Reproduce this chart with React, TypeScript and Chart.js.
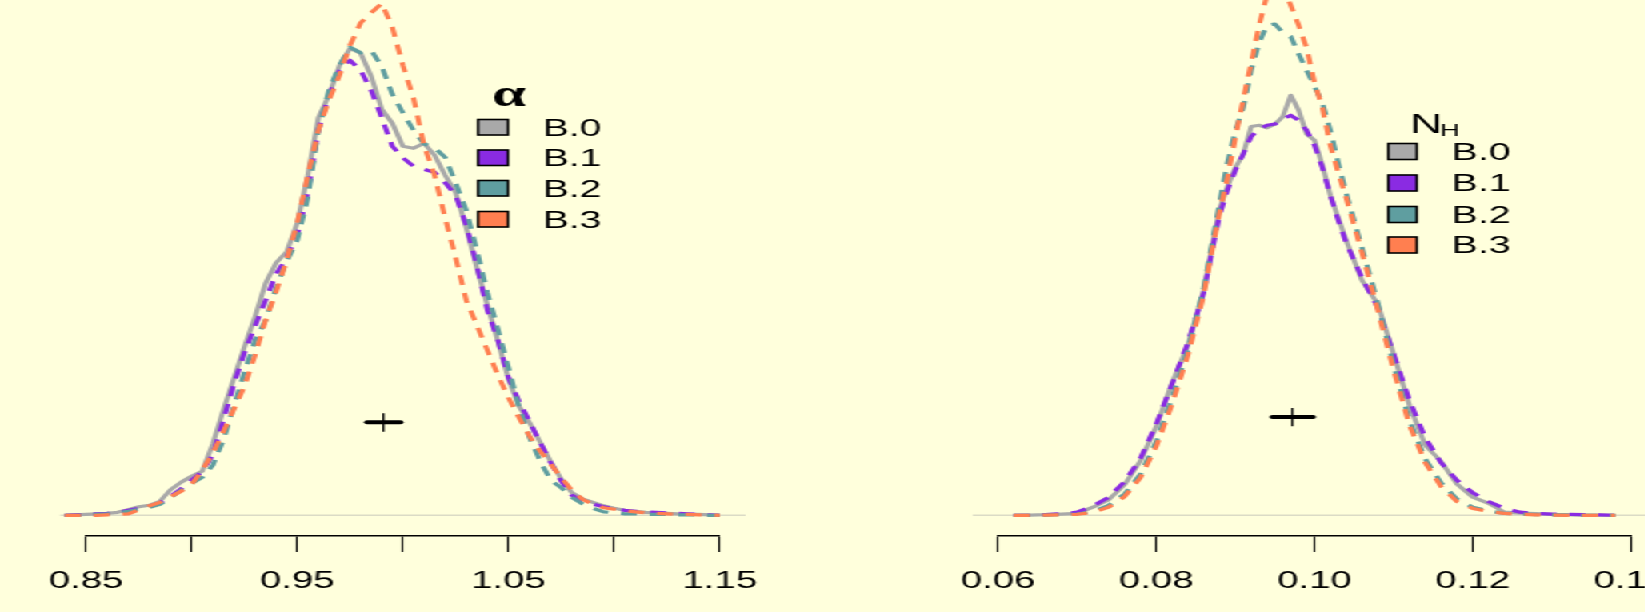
import React, { useEffect, useRef } from 'react';
import { Chart, registerables } from 'chart.js';

Chart.register(...registerables);

// ---------------- data ----------------
const SERIES_NAMES = ['B.0', 'B.1', 'B.2', 'B.3'];
const SERIES_COLORS = ['#A9A9A9', '#8A2BE2', '#5F9EA0', '#FF7F50'];

// alpha panel: density grid
const ALPHA_X = [
  0.840, 0.845, 0.850, 0.855, 0.860, 0.865, 0.870, 0.875, 0.880, 0.885, 0.890, 0.895, 0.900,
  0.905, 0.910, 0.915, 0.920, 0.925, 0.930, 0.935, 0.940, 0.945, 0.950,
  0.955, 0.960, 0.965, 0.970, 0.975, 0.980, 0.985, 0.990, 0.995, 1.000,
  1.005, 1.010, 1.015, 1.020, 1.025, 1.030, 1.035, 1.040, 1.045, 1.050,
  1.055, 1.060, 1.065, 1.070, 1.075, 1.080, 1.085, 1.090, 1.095, 1.100,
  1.105, 1.110, 1.115, 1.120, 1.125, 1.130, 1.135, 1.140, 1.145, 1.150,
];
const ALPHA_B0 = [
  0.00, 0.01, 0.02, 0.03, 0.04, 0.06, 0.11, 0.17, 0.20, 0.28, 0.51, 0.66, 0.78,
  0.88, 1.43, 2.10, 2.74, 3.37, 3.97, 4.64, 5.05, 5.27, 5.85,
  6.80, 7.95, 8.40, 9.00, 9.34, 9.24, 8.78, 8.12, 7.84, 7.38,
  7.34, 7.44, 7.20, 6.80, 6.45, 5.75, 4.95, 4.20, 3.48, 2.72,
  2.18, 1.85, 1.46, 1.07, 0.72, 0.45, 0.33, 0.26, 0.19, 0.14,
  0.10, 0.08, 0.06, 0.05, 0.04, 0.03, 0.02, 0.02, 0.01, 0.00,
];
const ALPHA_B1 = [
  0.00, 0.01, 0.02, 0.03, 0.04, 0.06, 0.10, 0.14, 0.18, 0.25, 0.38, 0.53, 0.70,
  0.88, 1.20, 1.90, 2.62, 3.25, 3.78, 4.30, 4.83, 5.15, 5.60,
  6.45, 7.70, 8.40, 8.90, 9.10, 8.90, 8.50, 7.95, 7.38, 7.15,
  6.98, 6.92, 6.86, 6.65, 6.40, 5.80, 5.00, 4.10, 3.50, 2.75,
  2.28, 1.87, 1.45, 1.05, 0.68, 0.40, 0.28, 0.22, 0.17, 0.13,
  0.10, 0.08, 0.07, 0.06, 0.05, 0.04, 0.03, 0.02, 0.01, 0.00,
];
const ALPHA_B2 = [
  0.00, 0.00, 0.01, 0.02, 0.03, 0.05, 0.08, 0.12, 0.16, 0.22, 0.35, 0.50, 0.64,
  0.76, 1.00, 1.50, 2.18, 2.86, 3.50, 3.90, 4.55, 5.08, 5.50,
  6.35, 7.70, 8.50, 9.00, 9.36, 9.25, 9.30, 8.98, 8.42, 8.05,
  7.70, 7.43, 7.35, 7.16, 6.65, 6.10, 5.30, 4.45, 3.72, 2.95,
  2.15, 1.55, 1.08, 0.70, 0.55, 0.36, 0.23, 0.14, 0.07, 0.05,
  0.03, 0.03, 0.02, 0.02, 0.02, 0.01, 0.01, 0.01, 0.00, 0.00,
];
const ALPHA_B3 = [
  0.00, 0.00, 0.00, 0.00, 0.01, 0.02, 0.03, 0.11, 0.19, 0.26, 0.37, 0.48, 0.62,
  0.90, 1.24, 1.67, 2.12, 2.58, 3.20, 3.90, 4.47, 5.10, 5.85,
  6.80, 7.70, 8.30, 8.80, 9.40, 9.85, 10.05, 10.24, 9.76, 9.00,
  8.35, 7.40, 6.80, 5.95, 5.15, 4.30, 3.80, 3.30, 2.80, 2.35,
  1.95, 1.58, 1.28, 1.02, 0.75, 0.50, 0.32, 0.22, 0.15, 0.12,
  0.09, 0.07, 0.05, 0.04, 0.03, 0.02, 0.02, 0.01, 0.01, 0.00,
];
const ALPHA_TICKS = [0.85, 0.90, 0.95, 1.00, 1.05, 1.10, 1.15];
const ALPHA_TICK_LABELS = ['0.85', '', '0.95', '', '1.05', '', '1.15'];
const ALPHA_BASELINE = [0.8378, 1.1622];
const ALPHA_INTERVAL = [0.9831, 0.9988];
const ALPHA_CENTER = 0.9908;
const ALPHA_MARK_Y = 1.86;
const ALPHA_MARK_SPAN = [1.67, 2.04];
const ALPHA_Y_RANGE = [-0.414, 10.306];

// N_H panel: density grid
const NH_X = [
  0.062, 0.064, 0.066, 0.068, 0.070, 0.072, 0.074, 0.076, 0.078, 0.080, 0.082, 0.084, 0.086,
  0.087, 0.088, 0.089, 0.090, 0.091, 0.092, 0.093, 0.094, 0.095, 0.096, 0.097, 0.098, 0.099,
  0.100, 0.101, 0.102, 0.103, 0.104,
  0.106, 0.108, 0.110, 0.112, 0.114, 0.116, 0.118, 0.120, 0.122, 0.124, 0.126, 0.128, 0.130,
  0.132, 0.134, 0.136, 0.138,
];
const NH_B0 = [
  0.00, 0.02, 0.05, 0.10, 0.16, 0.65, 1.25, 2.45, 4.35, 7.10, 10.6, 13.6, 18.0,
  21.3, 24.5, 26.3, 27.8, 28.9, 31.1, 31.2, 31.0, 31.3, 31.9, 33.6, 32.4, 30.5,
  30.0, 28.0, 25.6, 23.8, 22.0,
  18.8, 16.9, 12.9, 8.8, 5.6, 4.3, 2.5, 1.45, 0.95, 0.25, 0.18, 0.13, 0.08,
  0.05, 0.02, 0.01, 0.00,
];
const NH_B1 = [
  0.00, 0.02, 0.06, 0.12, 0.25, 0.75, 1.45, 2.70, 4.55, 7.30, 10.5, 13.8, 17.8,
  21.0, 24.0, 26.0, 27.6, 28.9, 30.3, 30.9, 31.2, 31.3, 31.7, 32.0, 31.6, 30.8,
  29.6, 27.8, 25.6, 23.6, 21.8,
  19.0, 16.6, 12.9, 9.2, 6.2, 4.2, 2.8, 1.8, 1.1, 0.55, 0.25, 0.15, 0.10,
  0.07, 0.05, 0.03, 0.00,
];
const NH_B2 = [
  0.00, 0.00, 0.02, 0.05, 0.10, 0.30, 0.80, 1.70, 3.30, 5.90, 9.40, 13.2, 18.2,
  21.6, 25.0, 28.2, 30.8, 32.6, 35.6, 37.8, 39.2, 39.3, 38.6, 38.3, 36.9, 35.6,
  34.3, 33.0, 30.8, 28.2, 25.8,
  21.4, 17.0, 12.0, 7.6, 4.5, 2.6, 1.3, 0.65, 0.35, 0.15, 0.10, 0.06, 0.03,
  0.01, 0.00, 0.00, 0.00,
];
const NH_B3 = [
  0.00, 0.00, 0.01, 0.03, 0.08, 0.22, 0.65, 1.50, 3.00, 5.50, 8.90, 12.8, 17.6,
  21.0, 24.2, 27.0, 30.2, 33.3, 36.2, 39.2, 41.6, 43.0, 42.2, 40.8, 39.2, 37.4,
  34.6, 32.6, 29.6, 27.4, 25.4,
  21.0, 16.4, 11.6, 7.2, 4.2, 2.3, 1.1, 0.55, 0.30, 0.15, 0.08, 0.04, 0.02,
  0.00, 0.00, 0.00, 0.00,
];
const NH_TICKS = [0.06, 0.08, 0.10, 0.12, 0.14];
const NH_TICK_LABELS = ['0.06', '0.08', '0.10', '0.12', '0.14'];
const NH_BASELINE = [0.0568, 0.1432];
const NH_INTERVAL = [0.0947, 0.0998];
const NH_CENTER = 0.0972;
const NH_MARK_Y = 7.87;
const NH_MARK_SPAN = [7.13, 8.59];
const NH_Y_RANGE = [-1.656, 41.22];

// ---------------- layout ----------------
const S = 1.6; // horizontal stretch of the whole figure
const H = 612;
const LEFT_W = 512;
const RIGHT_LEFT = 512;
const RIGHT_W = 570;
const FONT = '"Liberation Sans", Arial, Helvetica, sans-serif';

function buildDatasets(xs: number[], series: number[][], base: number[], interval: number[], center: number, markY: number, span: number[]) {
  const common = { pointRadius: 0, pointHoverRadius: 0, fill: false, tension: 0, clip: { left: 60, top: 0, right: 60, bottom: 20 } as any, borderJoinStyle: 'round' as const };
  const ds: any[] = [];
  ds.push({ ...common, label: 'base', data: base.map((x) => ({ x, y: 0 })), borderColor: 'rgba(190,190,180,0.55)', borderWidth: 1.5, order: 10 });
  series.forEach((arr, i) => {
    ds.push({
      ...common,
      label: SERIES_NAMES[i],
      data: xs.map((x, j) => ({ x, y: arr[j] })),
      borderColor: SERIES_COLORS[i],
      borderWidth: 3.2,
      borderDash: i === 0 ? [] : [10, 8],
      order: 5 - i,
    });
  });
  ds.push({ ...common, label: 'interval', data: interval.map((x) => ({ x, y: markY })), borderColor: '#000', borderWidth: 4, borderCapStyle: 'round', order: 0 });
  ds.push({ ...common, label: 'center', data: span.map((y) => ({ x: center, y })), borderColor: '#000', borderWidth: 1.3, order: 0 });
  return ds;
}

type LegendCfg = {
  canvasLeft: number;
  title: (ctx: CanvasRenderingContext2D, bx: (p: number) => number) => void;
  boxLeft: number; boxRight: number; boxTops: number[]; boxH: number; textX: number;
};

function makeLegendPlugin(cfg: LegendCfg) {
  const bx = (p: number) => p / S - cfg.canvasLeft;
  return {
    id: 'customLegend',
    afterDraw(chart: any) {
      const ctx: CanvasRenderingContext2D = chart.ctx;
      ctx.save();
      ctx.fillStyle = '#000';
      cfg.title(ctx, bx);
      cfg.boxTops.forEach((top, i) => {
        const x0 = bx(cfg.boxLeft);
        const w = bx(cfg.boxRight) - x0;
        ctx.fillStyle = SERIES_COLORS[i];
        ctx.fillRect(x0, top, w, cfg.boxH);
        ctx.strokeStyle = '#000';
        ctx.lineWidth = 1.6;
        ctx.strokeRect(x0, top, w, cfg.boxH);
        ctx.fillStyle = '#000';
        ctx.font = `24.5px ${FONT}`;
        ctx.textAlign = 'left';
        ctx.textBaseline = 'middle';
        ctx.fillText(SERIES_NAMES[i], bx(cfg.textX), top + cfg.boxH / 2 + 1.5);
      });
      ctx.restore();
    },
  };
}

function makeConfig(opts: {
  datasets: any[]; xmin: number; xmax: number; ticks: number[]; labels: string[];
  yr: number[]; padLeft: number; padRight: number; legend: any;
}) {
  return {
    type: 'line' as const,
    data: { datasets: opts.datasets },
    options: {
      responsive: false,
      animation: false as const,
      devicePixelRatio: 1,
      events: [],
      layout: { padding: { left: opts.padLeft, right: opts.padRight, top: 0, bottom: 0 } },
      plugins: { legend: { display: false }, tooltip: { enabled: false }, title: { display: false } },
      scales: {
        x: {
          type: 'linear' as const,
          bounds: 'data' as const,
          afterDataLimits: (s: any) => { s.min = opts.xmin; s.max = opts.xmax; },
          afterBuildTicks: (s: any) => { s.ticks = opts.ticks.map((v) => ({ value: v })); },
          afterFit: (s: any) => { s.height = 76; },
          grid: { display: true, drawOnChartArea: false, drawTicks: true, tickLength: 16, tickColor: '#000', tickWidth: 1.1 },
          border: { display: true, color: '#000', width: 1.5 },
          ticks: {
            autoSkip: false, maxRotation: 0, minRotation: 0, padding: 15, color: '#000',
            font: { family: FONT, size: 24 },
            callback: (_v: any, i: number) => opts.labels[i],
          },
        },
        y: { display: false, min: opts.yr[0], max: opts.yr[1] },
      },
    },
    plugins: [opts.legend],
  };
}

export default function App() {
  const leftRef = useRef<HTMLCanvasElement>(null);
  const rightRef = useRef<HTMLCanvasElement>(null);

  useEffect(() => {
    const leftLegend = makeLegendPlugin({
      canvasLeft: 0,
      title: (ctx, bx) => {
        ctx.font = `bold 38px "Liberation Serif", "DejaVu Serif", serif`;
        ctx.textAlign = 'center';
        ctx.textBaseline = 'alphabetic';
        ctx.fillText('α', bx(509), 106);
      },
      boxLeft: 478, boxRight: 508, boxTops: [119.5, 150, 180.5, 211.5], boxH: 15.5, textX: 542.7,
    });
    const rightLegend = makeLegendPlugin({
      canvasLeft: RIGHT_LEFT,
      title: (ctx, bx) => {
        ctx.textAlign = 'left';
        ctx.textBaseline = 'alphabetic';
        ctx.font = `28px ${FONT}`;
        ctx.fillText('N', bx(1410), 133);
        ctx.font = `17px ${FONT}`;
        ctx.fillText('H', bx(1440), 136);
      },
      boxLeft: 1388.3, boxRight: 1416.7, boxTops: [143.5, 175, 206.5, 237], boxH: 16, textX: 1451.7,
    });

    const left = new Chart(leftRef.current as HTMLCanvasElement, makeConfig({
      datasets: buildDatasets(ALPHA_X, [ALPHA_B0, ALPHA_B1, ALPHA_B2, ALPHA_B3], ALPHA_BASELINE, ALPHA_INTERVAL, ALPHA_CENTER, ALPHA_MARK_Y, ALPHA_MARK_SPAN),
      xmin: 0.85, xmax: 1.15, ticks: ALPHA_TICKS, labels: ALPHA_TICK_LABELS, yr: ALPHA_Y_RANGE,
      padLeft: 86 / S, padRight: LEFT_W - 719.8 / S, legend: leftLegend,
    }) as any);
    const right = new Chart(rightRef.current as HTMLCanvasElement, makeConfig({
      datasets: buildDatasets(NH_X, [NH_B0, NH_B1, NH_B2, NH_B3], NH_BASELINE, NH_INTERVAL, NH_CENTER, NH_MARK_Y, NH_MARK_SPAN),
      xmin: 0.06, xmax: 0.14, ticks: NH_TICKS, labels: NH_TICK_LABELS, yr: NH_Y_RANGE,
      padLeft: 998 / S - RIGHT_LEFT, padRight: RIGHT_LEFT + RIGHT_W - 1631 / S, legend: rightLegend,
    }) as any);
    return () => { left.destroy(); right.destroy(); };
  }, []);

  return (
    <div style={{ position: 'fixed', left: 0, top: 0, width: 1645, height: H, overflow: 'hidden', background: '#FFFFDC' }}>
      <div style={{ position: 'absolute', left: 0, top: 0, width: RIGHT_LEFT + RIGHT_W, height: H, transform: `scaleX(${S})`, transformOrigin: '0 0' }}>
        <canvas ref={leftRef} width={LEFT_W} height={H} style={{ position: 'absolute', left: 0, top: 0, width: LEFT_W, height: H }} />
        <canvas ref={rightRef} width={RIGHT_W} height={H} style={{ position: 'absolute', left: RIGHT_LEFT, top: 0, width: RIGHT_W, height: H }} />
      </div>
    </div>
  );
}
